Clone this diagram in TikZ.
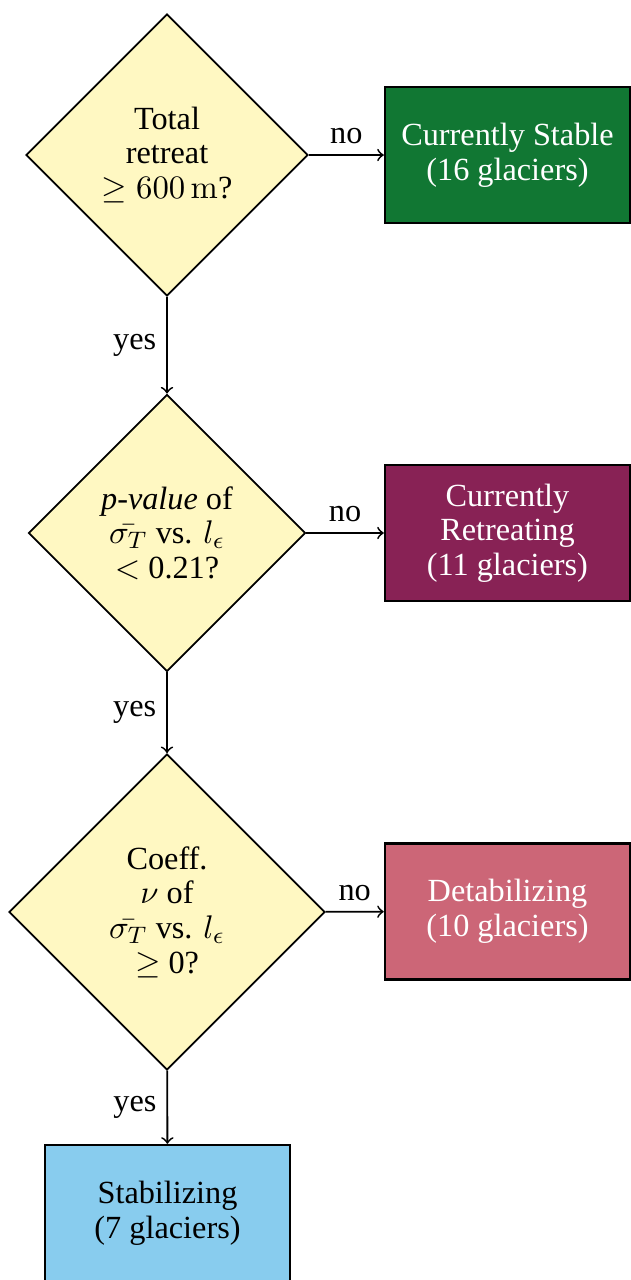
\documentclass[tikz,border=0pt]{standalone}
\usepackage[no-math]{fontspec}
\setmainfont{Liberation Serif}[Ligatures=TeX]
\usepackage{amsfonts, amssymb}
\usepackage{mathtools}
\usetikzlibrary{shapes.geometric}

\definecolor{tolyellow}{HTML}{FFF8C2}
\definecolor{tolgreen}{HTML}{117733}
\definecolor{tolwine}{HTML}{882255}
\definecolor{tolrose}{HTML}{CC6677}
\definecolor{tolcyan}{HTML}{88CCEE}

\tikzset{
    decision/.style={draw, semithick, diamond, aspect=1, fill=tolyellow,
        inner sep=0pt, align=center},
    outcome/.style={draw, thick, rectangle, minimum width=2.881cm,
        minimum height=1.599cm, inner sep=0pt, align=center},
    flow/.style={->, semithick},
}

\begin{document}
\begin{tikzpicture}[font=\rmfamily\fontsize{10.8}{11.6}\selectfont]
        \useasboundingbox (0,0) rectangle (7.409,-15.053);

        % Entscheidungen
        \node[decision, minimum size=3.316cm] (q1) at (1.964,-1.823)
            {Total\\ retreat\\ $\geq 600\,\mathrm{m}$?};
        \node[decision, minimum size=3.258cm] (q2) at (1.964,-6.268)
            {\textit{p-value} of\\ $\bar{\sigma_T}$ vs. $l_\epsilon$\\ $<$ 0.21?};
        \node[decision, minimum size=3.716cm] (q3) at (1.964,-10.725)
            {Coeff.\\ $\nu$ of\\ $\bar{\sigma_T}$ vs. $l_\epsilon$\\ $\geq$ 0?};

        % Ergebnisse
        \node[outcome, fill=tolgreen, text=white] (stable) at (5.968,-1.823)
            {Currently Stable\\ (16 glaciers)};
        \node[outcome, fill=tolwine, text=white] (retreat) at (5.968,-6.268)
            {Currently\\ Retreating\\ (11 glaciers)};
        \node[outcome, fill=tolrose, text=white] (destab) at (5.968,-10.719)
            {Detabilizing\\ (10 glaciers)};
        \node[outcome, fill=tolcyan] (stab) at (1.970,-14.265)
            {Stabilizing\\ (7 glaciers)};

        % Pfeile
        \draw[flow] (q1) -- node[above] {no} (stable);
        \draw[flow] (q2) -- node[above] {no} (retreat);
        \draw[flow] (q3) -- node[above] {no} (destab);
        \draw[flow] (q1) -- node[left] {yes} (q2);
        \draw[flow] (q2) -- node[left] {yes} (q3);
        \draw[flow] (q3) -- node[left] {yes} (stab);
    \end{tikzpicture}
\end{document}
